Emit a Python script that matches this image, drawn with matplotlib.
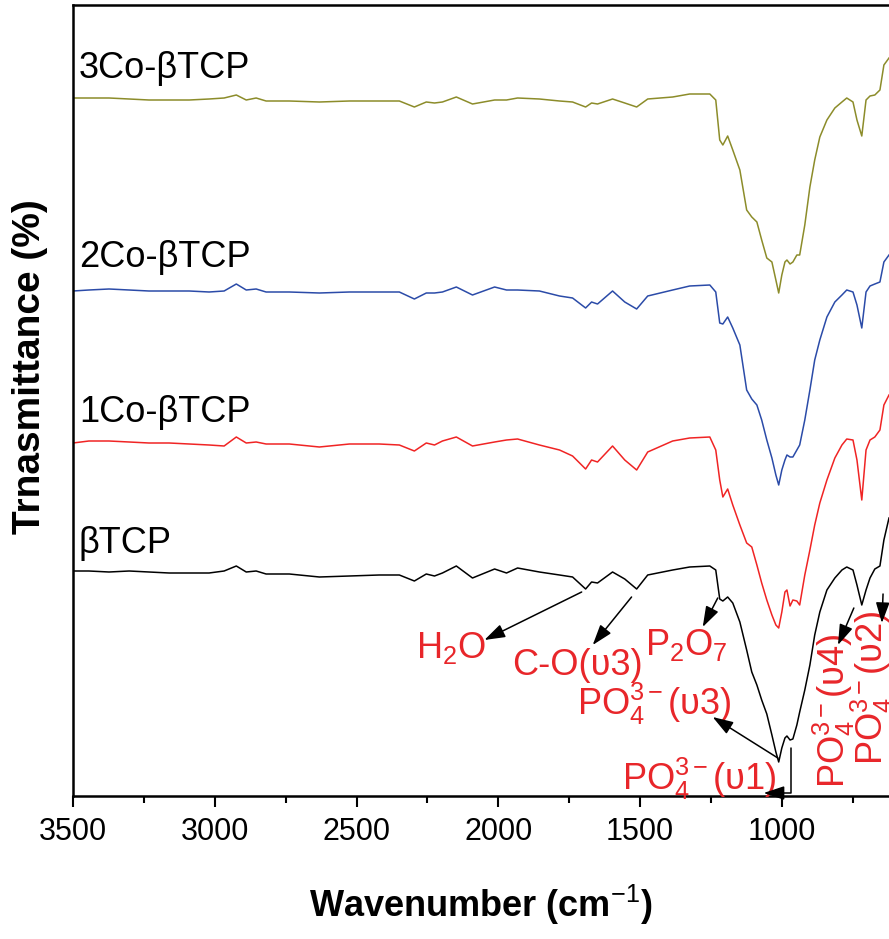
import matplotlib
matplotlib.use("Agg")
import matplotlib.pyplot as plt
from matplotlib.ticker import MultipleLocator

plt.rcParams['font.family'] = ['Liberation Sans', 'DejaVu Sans']
plt.rcParams['mathtext.fontset'] = 'custom'
plt.rcParams['mathtext.rm'] = 'Liberation Sans'
plt.rcParams['mathtext.it'] = 'Liberation Sans:italic'
plt.rcParams['mathtext.bf'] = 'Liberation Sans:bold'

# FTIR spectra, wavenumber in cm-1, transmittance in arbitrary offset units
wavenumber = [3500, 3444, 3373, 3302, 3232, 3161, 3090, 3020, 2967, 2924,
              2889, 2854, 2819, 2737, 2631, 2525, 2420, 2349, 2296, 2254,
              2225, 2197, 2148, 2091, 2013, 1971, 1932, 1855, 1784, 1738,
              1692, 1671, 1650, 1597, 1554, 1512, 1473, 1385, 1325, 1254,
              1233, 1219, 1208, 1191, 1173, 1148, 1124, 1106, 1088, 1071,
              1053, 1035, 1021, 1011, 1000, 989, 982, 971, 961, 947,
              937, 919, 901, 884, 866, 841, 813, 788, 771, 749,
              735, 718, 703, 689, 672, 654, 640, 622]

t_btcp = [225, 225, 224, 225, 224, 223, 223, 223, 225, 230,
          224, 225, 222, 222, 219, 220, 221, 221, 215, 222,
          220, 223, 230, 218, 227, 223, 228, 224, 221, 219,
          207, 214, 213, 224, 217, 207, 221, 226, 229, 230,
          226, 197, 195, 199, 193, 174, 146, 124, 111, 96,
          82, 61, 44, 34, 48, 58, 60, 56, 57, 71,
          84, 106, 131, 161, 184, 206, 218, 226, 229, 226,
          211, 191, 206, 218, 227, 230, 256, 278]

t_1co = [353, 355, 355, 354, 353, 353, 352, 351, 350, 359,
         353, 354, 352, 352, 349, 352, 352, 351, 345, 353,
         351, 355, 359, 350, 354, 356, 357, 351, 346, 340,
         327, 336, 334, 350, 336, 326, 344, 355, 358, 359,
         346, 316, 299, 307, 291, 271, 253, 249, 231, 213,
         196, 181, 171, 168, 184, 204, 206, 190, 196, 195,
         191, 221, 246, 271, 293, 316, 338, 351, 357, 356,
         336, 296, 346, 356, 359, 366, 391, 401]

t_2co = [505, 506, 507, 506, 505, 505, 505, 504, 505, 512,
         506, 507, 504, 504, 503, 504, 504, 504, 497, 503,
         503, 504, 509, 501, 509, 506, 506, 505, 500, 498,
         488, 494, 492, 505, 494, 487, 500, 506, 510, 511,
         504, 473, 472, 479, 468, 451, 406, 397, 391, 376,
         356, 338, 321, 311, 326, 336, 341, 339, 339, 346,
         351, 376, 406, 436, 456, 479, 494, 501, 506, 504,
         491, 468, 504, 510, 512, 514, 534, 541]

t_3co = [698, 698, 698, 697, 696, 696, 696, 697, 698, 701,
         696, 698, 695, 695, 694, 695, 695, 695, 689, 694,
         693, 694, 699, 692, 696, 696, 698, 697, 695, 694,
         689, 693, 692, 697, 693, 689, 697, 699, 702, 702,
         696, 656, 651, 660, 646, 626, 586, 579, 574, 556,
         538, 534, 516, 503, 521, 534, 536, 532, 534, 541,
         541, 571, 609, 636, 659, 676, 688, 694, 698, 694,
         676, 660, 696, 700, 701, 706, 731, 738]

samples = ['βTCP', '1Co-βTCP', '2Co-βTCP', '3Co-βTCP']
spectra = [t_btcp, t_1co, t_2co, t_3co]
colors = ['black', '#f02424', '#2b4ba8', '#8c8c2a']
name_y = [243, 374, 529, 718]

# band assignments: text, text position, arrow tail, arrow head
bands = [
    ('H$_2$O', (2289, 138), (1706, 204), (2049, 156)),
    ('C-O(υ3)', (1950, 121), (1530, 199), (1667, 151)),
    ('P$_2$O$_7$', (1484, 141), (1226, 198), (1279, 169)),
    ('PO$_4^{3-}$(υ3)', (1724, 81), (1014, 38), (1244, 79)),
]
red = '#e8262a'

fig = plt.figure(figsize=(8.89, 9.39), dpi=100)
ax = fig.add_axes([73 / 889, 143 / 939, 1 - 73 / 889, 791 / 939])

for t, c in zip(spectra, colors):
    ax.plot(wavenumber, t, color=c, lw=1.1)

for name, y in zip(samples, name_y):
    ax.text(3479, y, name, fontsize=26, va='baseline', ha='left')

arrow = dict(arrowstyle='-|>,head_length=0.9,head_width=0.3', color='black',
             lw=1.1, mutation_scale=14, shrinkA=0, shrinkB=0)

for label, pos, tail, head in bands:
    ax.text(pos[0], pos[1], label, color=red, fontsize=26, va='baseline', ha='left')
    ax.annotate('', xy=head, xytext=tail, arrowprops=arrow)

# v1 band: elbow arrow down then left
ax.text(1562, 6, 'PO$_4^{3-}$(υ1)', color=red, fontsize=26, va='baseline', ha='left')
ax.annotate('', xy=(1064, 3), xytext=(968, 48),
            arrowprops=dict(arrow, connectionstyle='angle,angleA=90,angleB=0,rad=0'))

# v4 and v2 bands, rotated labels
ax.text(778, 8, 'PO$_4^{3-}$(υ4)', color=red, fontsize=26, rotation=90,
        rotation_mode='anchor', ha='left', va='baseline')
ax.annotate('', xy=(802, 151), xytext=(746, 188), arrowprops=arrow)
ax.text(643, 31, 'PO$_4^{3-}$(υ2)', color=red, fontsize=26, rotation=90,
        rotation_mode='anchor', ha='left', va='baseline')
ax.annotate('', xy=(647, 173), xytext=(643, 202), arrowprops=arrow)

ax.set_xlim(3500, 622)
ax.set_ylim(0, 791)
ax.set_yticks([])
ax.xaxis.set_major_locator(MultipleLocator(500))
ax.xaxis.set_minor_locator(MultipleLocator(250))
ax.tick_params(axis='x', which='major', direction='out', length=8, width=1.5,
               labelsize=22, pad=7)
ax.tick_params(axis='x', which='minor', direction='out', length=5, width=1.5)
for s in ['left', 'bottom', 'top']:
    ax.spines[s].set_linewidth(1.8)
ax.spines['right'].set_visible(False)

ax.set_xlabel('Wavenumber (cm$^{-1}$)', fontsize=26, fontweight='bold', labelpad=26)
fig.text(30 / 889, 1 - 367 / 939, 'Trnasmittance (%)', fontsize=28,
         fontweight='bold', rotation=90, ha='center', va='center')

fig.savefig('out.png', dpi=100)
